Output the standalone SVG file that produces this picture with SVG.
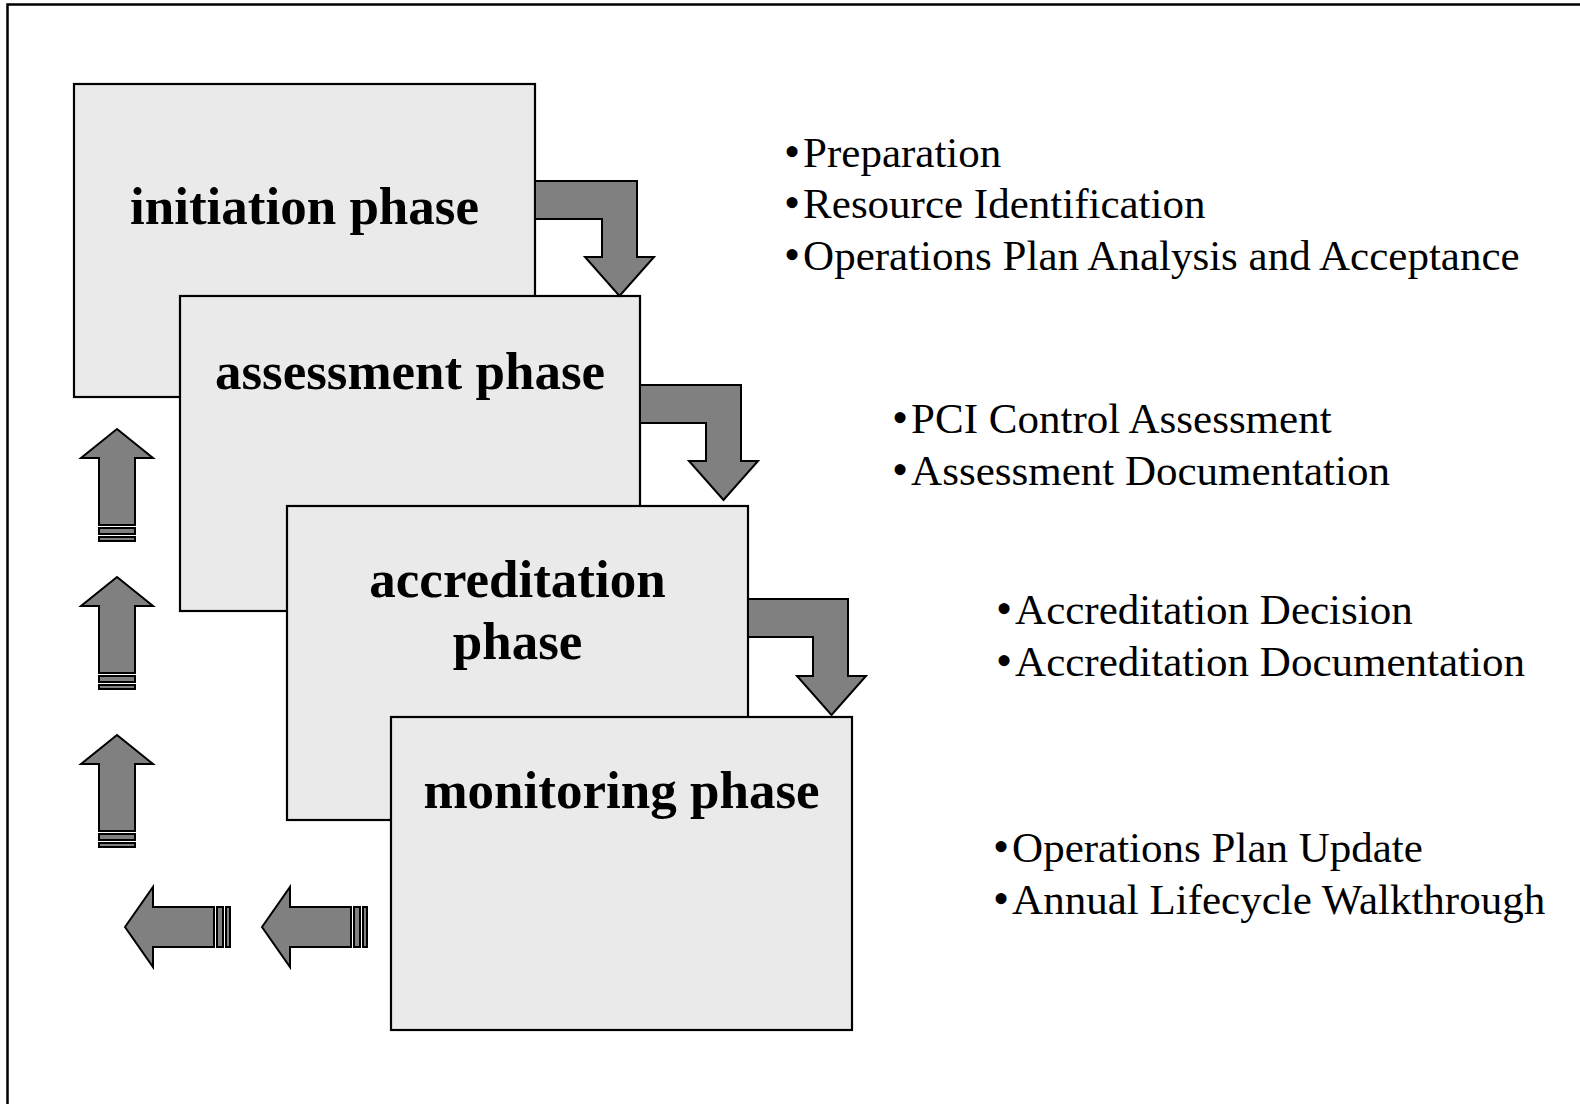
<svg xmlns="http://www.w3.org/2000/svg" width="1580" height="1104" viewBox="0 0 1580 1104">
  <style>
    .frame { fill: #ffffff; stroke: #000000; stroke-width: 2.5; }
    .phase { fill: #eaeaea; stroke: #000000; stroke-width: 2.2; }
    .title { font-family: "Liberation Serif", "Times New Roman", serif; font-weight: bold; font-size: 53px; fill: #000000; text-anchor: middle; }
    .item { font-family: "Liberation Serif", "Times New Roman", serif; font-size: 43px; fill: #000000; }
    .dot { font-size: 46px; letter-spacing: 3px; }
    .arrow { fill: #808080; stroke: #000000; stroke-width: 2; stroke-linejoin: miter; }
  </style>
  <defs>
    <!-- striped block arrow pointing up, tip at (0,0) -->
    <g id="up-arrow">
      <path class="arrow" d="M0,0 L36,29 L18,29 L18,96 L-18,96 L-18,29 L-36,29 Z"/>
      <rect class="arrow" x="-18" y="99" width="36" height="6"/>
      <rect class="arrow" x="-18" y="108" width="36" height="4"/>
    </g>
    <!-- striped block arrow pointing left, tip at (0,0) -->
    <g id="left-arrow">
      <path class="arrow" d="M0,0 L28,-40 L28,-20 L89,-20 L89,20 L28,20 L28,40 Z"/>
      <rect class="arrow" x="92" y="-20" width="6" height="40"/>
      <rect class="arrow" x="101" y="-20" width="4" height="40"/>
    </g>
  </defs>

  <!-- page frame -->
  <rect class="frame" x="7.5" y="4.5" width="1620" height="1150"/>

  <!-- phase cards, stacked diagonally -->
  <g id="initiation">
    <rect class="phase" x="74" y="84" width="461" height="313"/>
    <text class="title" x="304.5" y="224">initiation phase</text>
  </g>
  <g id="assessment">
    <rect class="phase" x="180" y="296" width="460" height="315"/>
    <text class="title" x="410" y="389">assessment phase</text>
  </g>
  <g id="accreditation">
    <rect class="phase" x="287" y="506" width="461" height="314"/>
    <text class="title" x="517.5" y="597">accreditation</text>
    <text class="title" x="517.5" y="659">phase</text>
  </g>
  <g id="monitoring">
    <rect class="phase" x="391" y="717" width="461" height="313"/>
    <text class="title" x="621.5" y="808">monitoring phase</text>
  </g>

  <!-- activity lists for each phase -->
  <g id="initiation-items">
    <text class="item" x="784" y="167"><tspan class="dot">•</tspan>Preparation</text>
    <text class="item" x="784" y="218"><tspan class="dot">•</tspan>Resource Identification</text>
    <text class="item" x="784" y="270"><tspan class="dot">•</tspan>Operations Plan Analysis and Acceptance</text>
  </g>
  <g id="assessment-items">
    <text class="item" x="892" y="433"><tspan class="dot">•</tspan>PCI Control Assessment</text>
    <text class="item" x="892" y="485"><tspan class="dot">•</tspan>Assessment Documentation</text>
  </g>
  <g id="accreditation-items">
    <text class="item" x="996" y="624"><tspan class="dot">•</tspan>Accreditation Decision</text>
    <text class="item" x="996" y="676"><tspan class="dot">•</tspan>Accreditation Documentation</text>
  </g>
  <g id="monitoring-items">
    <text class="item" x="993" y="862"><tspan class="dot">•</tspan>Operations Plan Update</text>
    <text class="item" x="993" y="914"><tspan class="dot">•</tspan>Annual Lifecycle Walkthrough</text>
  </g>

  <!-- connectors -->
  <g id="connectors">
    <!-- bent arrows from each phase down to the next -->
    <path class="arrow" d="M535,181 L637,181 L637,257 L654,257 L619.5,296 L585,257 L602,257 L602,219 L535,219 Z"/>
    <path class="arrow" d="M640,385 L741,385 L741,461 L758,461 L723.5,500 L689,461 L706,461 L706,423 L640,423 Z"/>
    <path class="arrow" d="M748,599 L848,599 L848,676 L866,676 L831.5,715 L797,676 L813,676 L813,637 L748,637 Z"/>

    <!-- return path from monitoring back to initiation -->
    <use href="#left-arrow" x="262" y="927"/>
    <use href="#left-arrow" x="125" y="927"/>
    <use href="#up-arrow" x="117" y="735"/>
    <use href="#up-arrow" x="117" y="577"/>
    <use href="#up-arrow" x="117" y="429"/>
  </g>
</svg>
